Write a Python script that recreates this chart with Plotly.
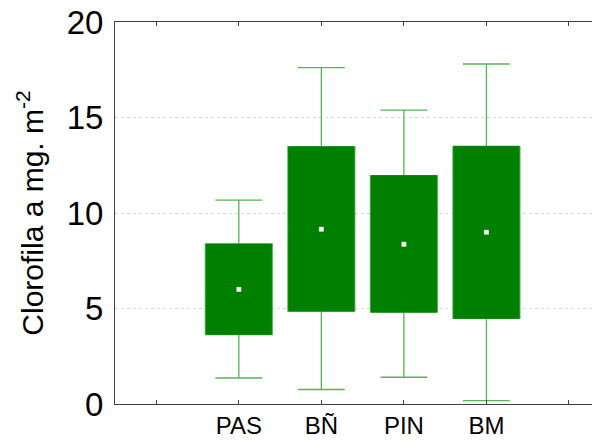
import plotly.graph_objects as go

categories = ["PAS", "BÑ", "PIN", "BM"]
positions = [1, 2, 3, 4]
tick_positions = [0, 1, 2, 3, 4, 5]
tick_labels = ["", "PAS", "BÑ", "PIN", "BM", ""]
whisker_low = [1.36, 0.76, 1.40, 0.18]
q1 = [3.64, 4.86, 4.81, 4.48]
median = [6.00, 9.15, 8.36, 8.99]
q3 = [8.38, 13.47, 11.96, 13.49]
whisker_high = [10.67, 17.61, 15.39, 17.80]

GREEN = "#008000"
LIGHT = "rgba(60,165,60,0.85)"

fig = go.Figure()
# whiskers + box
fig.add_trace(go.Box(
    x=positions, q1=q1, median=median, q3=q3,
    lowerfence=whisker_low, upperfence=whisker_high,
    width=0.81, whiskerwidth=0.7,
    fillcolor=GREEN, line=dict(color=LIGHT, width=1.3),
    boxpoints=False, hoverinfo="skip", showlegend=False,
))
# solid box covering the median line
fig.add_trace(go.Box(
    x=positions, q1=q1, median=median, q3=q3,
    lowerfence=q1, upperfence=q3,
    width=0.79, whiskerwidth=0,
    fillcolor=GREEN, line=dict(color=GREEN, width=0.5),
    boxpoints=False, hoverinfo="skip", showlegend=False,
))
# median markers
fig.add_trace(go.Scatter(
    x=positions, y=median, mode="markers",
    marker=dict(symbol="square", size=5, color="white",
                line=dict(color="rgba(0,90,0,0.5)", width=0.5)),
    hoverinfo="skip", showlegend=False,
))

fig.update_layout(
    width=592, height=433,
    margin=dict(l=107, r=0, t=14, b=37),
    paper_bgcolor="white", plot_bgcolor="white",
    boxmode="overlay",
    font=dict(family="Liberation Sans, Arial, sans-serif", color="black"),
)
fig.update_xaxes(
    range=[-0.5, 5.376], tickmode="array", tickvals=tick_positions, ticktext=tick_labels,
    showgrid=False, zeroline=False, automargin=False,
    showline=True, linecolor="#404040", linewidth=1, mirror="ticks",
    ticks="inside", ticklen=4, tickcolor="#404040", tickwidth=1,
    tickfont=dict(size=24, color="black"),
)
fig.update_yaxes(
    range=[0, 20], tickvals=[0, 5, 10, 15, 20],
    showgrid=True, gridcolor="#d8d8d8", griddash="dot", gridwidth=1,
    zeroline=False, showline=True, linecolor="#404040", linewidth=1, mirror=False,
    automargin=False,
    ticks="", tickfont=dict(size=33, color="black"), ticklabelstandoff=4,
    ticklabeloverflow="allow",
    title=dict(text="Clorofila a mg. m<sup>-2</sup>", font=dict(size=30, color="black"), standoff=14),
)
fig.write_html("out.html")
